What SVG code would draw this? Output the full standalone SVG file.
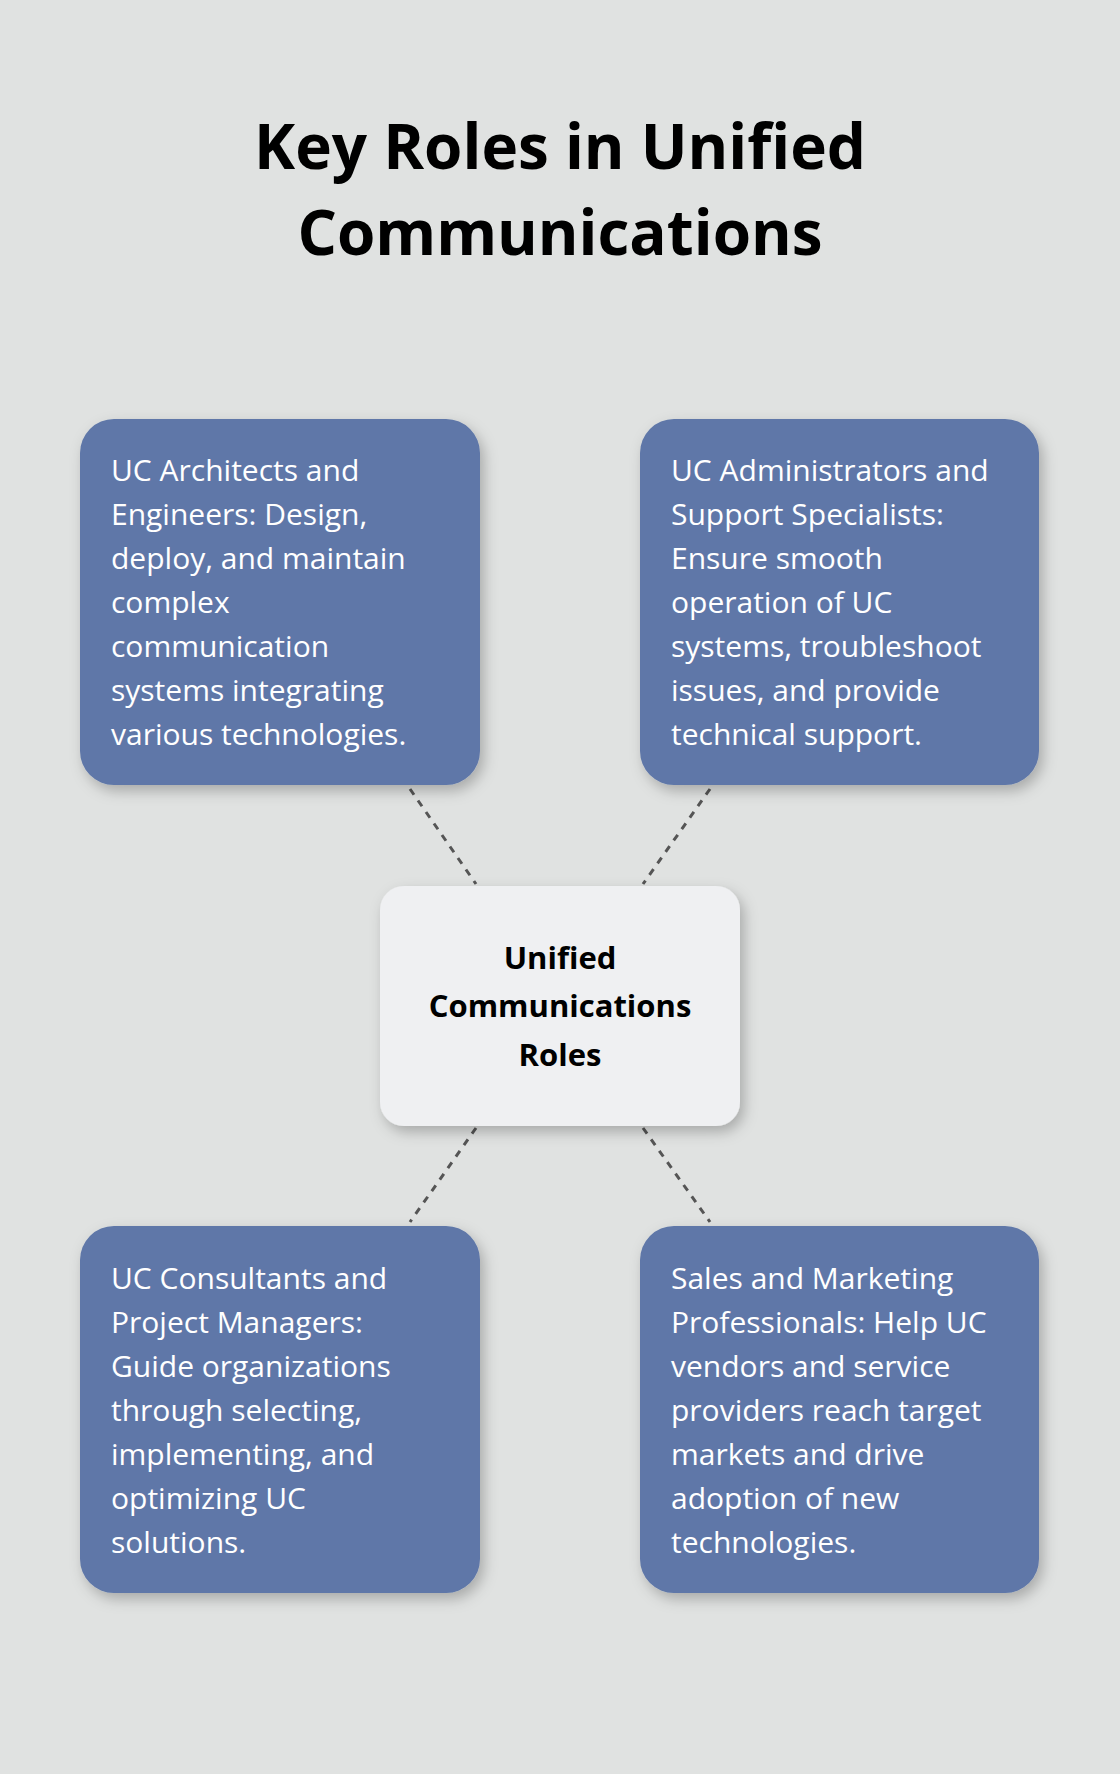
<svg xmlns="http://www.w3.org/2000/svg" width="1120" height="1774" viewBox="0 0 1120 1774">
<defs>
<filter id="sh" x="-20%" y="-20%" width="140%" height="140%"><feDropShadow dx="4" dy="6" stdDeviation="7" flood-color="#000" flood-opacity="0.25"/></filter>
</defs>
<style>
.box{fill:#5f77a8;filter:url(#sh)}
.t{font-family:"Open Sans","Noto Sans",sans-serif;font-size:30px;fill:#fff}
.c{font-family:"Open Sans","Noto Sans",sans-serif;font-size:31px;font-weight:bold;fill:#000;text-anchor:middle}
.ln{stroke:#555;stroke-width:3;stroke-dasharray:7,7;fill:none}
</style>
<rect width="1120" height="1774" fill="#e0e2e1"/>
<text x="560" y="169" class="c" style="font-size:62px">Key Roles in Unified</text>
<text x="560" y="255" class="c" style="font-size:62px">Communications</text>
<g id="connectors">
<line class="ln" x1="410" y1="789" x2="476" y2="884"/>
<line class="ln" x1="710" y1="789" x2="643" y2="884"/>
<line class="ln" x1="476" y1="1128" x2="410" y2="1222"/>
<line class="ln" x1="643" y1="1128" x2="710" y2="1222"/>
</g>
<g id="center">
<rect x="380" y="886" width="360" height="240" rx="24" fill="#eff0f2" filter="url(#sh)"/>
<text class="c"><tspan x="560" y="969">Unified</tspan><tspan x="560" y="1017">Communications</tspan><tspan x="560" y="1066">Roles</tspan></text>
</g>
<g id="n1">
<rect class="box" x="80" y="419" width="400" height="366" rx="34"/>
<text class="t"><tspan x="111" y="481">UC Architects and</tspan><tspan x="111" y="525">Engineers: Design,</tspan><tspan x="111" y="569">deploy, and maintain</tspan><tspan x="111" y="613">complex</tspan><tspan x="111" y="657">communication</tspan><tspan x="111" y="701">systems integrating</tspan><tspan x="111" y="745">various technologies.</tspan></text>
</g>
<g id="n2">
<rect class="box" x="640" y="419" width="399" height="366" rx="34"/>
<text class="t"><tspan x="671" y="481">UC Administrators and</tspan><tspan x="671" y="525">Support Specialists:</tspan><tspan x="671" y="569">Ensure smooth</tspan><tspan x="671" y="613">operation of UC</tspan><tspan x="671" y="657">systems, troubleshoot</tspan><tspan x="671" y="701">issues, and provide</tspan><tspan x="671" y="745">technical support.</tspan></text>
</g>
<g id="n3">
<rect class="box" x="80" y="1226" width="400" height="367" rx="34"/>
<text class="t"><tspan x="111" y="1289">UC Consultants and</tspan><tspan x="111" y="1333">Project Managers:</tspan><tspan x="111" y="1377">Guide organizations</tspan><tspan x="111" y="1421">through selecting,</tspan><tspan x="111" y="1465">implementing, and</tspan><tspan x="111" y="1509">optimizing UC</tspan><tspan x="111" y="1553">solutions.</tspan></text>
</g>
<g id="n4">
<rect class="box" x="640" y="1226" width="399" height="367" rx="34"/>
<text class="t"><tspan x="671" y="1289">Sales and Marketing</tspan><tspan x="671" y="1333">Professionals: Help UC</tspan><tspan x="671" y="1377">vendors and service</tspan><tspan x="671" y="1421">providers reach target</tspan><tspan x="671" y="1465">markets and drive</tspan><tspan x="671" y="1509">adoption of new</tspan><tspan x="671" y="1553">technologies.</tspan></text>
</g>
</svg>
